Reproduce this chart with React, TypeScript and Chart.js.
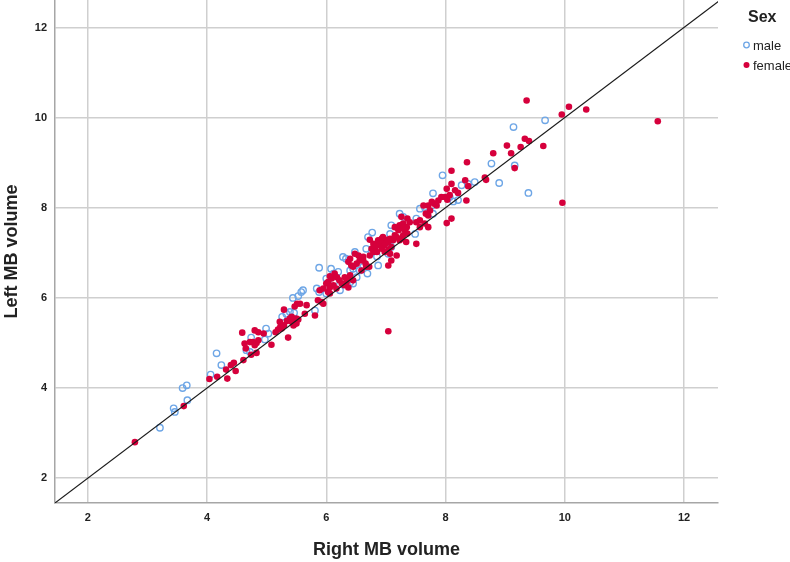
import React, { useEffect, useRef } from "react";
import { Chart, registerables } from "chart.js";

Chart.register(...registerables);

// axis ranges and the y = x reference line
const xRange: [number, number] = [1.45, 12.57];
const yRange: [number, number] = [1.45, 12.61];
const tickStep = 2;

const xTitle = "Right MB volume";
const yTitle = "Left MB volume";
const legendTitle = "Sex";
const seriesNames = ["male", "female"];

// [Right MB volume, Left MB volume]
const malePoints: [number, number][] = [
  [3.21, 3.12], [3.44, 3.55], [3.46, 3.47], [3.59, 4.0], [3.66, 4.06], [3.67, 3.73],
  [4.06, 4.3], [4.16, 4.77], [4.24, 4.51], [4.66, 4.84], [4.72, 4.8], [4.74, 5.12],
  [4.97, 5.08], [4.99, 5.32], [5.03, 5.21], [5.26, 5.58], [5.33, 5.65], [5.39, 5.69],
  [5.46, 5.67], [5.44, 6.0], [5.53, 6.04], [5.58, 6.13], [5.61, 6.17], [5.81, 5.72],
  [5.84, 6.21], [5.88, 6.13], [5.88, 6.67], [6.0, 6.1], [6.0, 6.43], [6.08, 6.65],
  [6.12, 6.54], [6.13, 6.35], [6.2, 6.58], [6.23, 6.17], [6.28, 6.91], [6.33, 6.87],
  [6.4, 6.61], [6.4, 6.35], [6.45, 6.32], [6.51, 6.46], [6.45, 6.65], [6.56, 6.61],
  [6.62, 6.69], [6.69, 6.54], [6.48, 7.02], [6.67, 7.09], [6.76, 7.02], [6.7, 7.35],
  [6.77, 7.45], [6.85, 6.92], [6.87, 6.72], [7.04, 6.98], [7.09, 7.13], [7.07, 7.42],
  [7.09, 7.61], [7.23, 7.87], [7.29, 7.8], [7.49, 7.42], [7.51, 7.76], [7.57, 7.98],
  [7.65, 8.02], [7.77, 8.05], [7.79, 7.87], [7.79, 8.32], [7.95, 8.72], [8.07, 8.24],
  [8.21, 8.17], [8.13, 8.14], [8.27, 8.5], [8.38, 8.53], [8.49, 8.57], [8.77, 8.98],
  [8.9, 8.55], [9.16, 8.94], [9.14, 9.79], [9.39, 8.33], [9.67, 9.94],
];

const femalePoints: [number, number][] = [
  [2.79, 2.8], [3.61, 3.6], [4.04, 4.2], [4.17, 4.25], [4.34, 4.21], [4.32, 4.41],
  [4.4, 4.51], [4.45, 4.56], [4.48, 4.38], [4.61, 4.62], [4.59, 5.23], [4.63, 4.99],
  [4.65, 4.88], [4.72, 5.02], [4.77, 5.02], [4.8, 4.95], [4.83, 5.0], [4.86, 5.06],
  [4.74, 4.74], [4.83, 4.78], [4.8, 5.28], [4.86, 5.24], [4.95, 5.21], [5.08, 4.96],
  [5.15, 5.24], [5.19, 5.3], [5.23, 5.36], [5.22, 5.47], [5.29, 5.74], [5.36, 5.12],
  [5.34, 5.49], [5.39, 5.54], [5.47, 5.81], [5.51, 5.87], [5.5, 5.54], [5.25, 5.32],
  [5.29, 5.39], [5.42, 5.47], [5.45, 5.39], [5.5, 5.43], [5.53, 5.52], [5.56, 5.87],
  [5.67, 5.84], [5.64, 5.65], [5.42, 5.58], [5.81, 5.61], [5.86, 5.95], [5.92, 5.91],
  [5.95, 5.87], [5.89, 6.17], [5.95, 6.21], [6.03, 6.13], [6.06, 6.1], [6.09, 6.43],
  [6.03, 6.35], [6.06, 6.48], [6.0, 6.32], [6.06, 6.23], [6.12, 6.28], [6.17, 6.21],
  [6.14, 6.54], [6.18, 6.46], [6.22, 6.39], [6.26, 6.32], [6.31, 6.46], [6.3, 6.28],
  [6.37, 6.23], [6.37, 6.43], [6.4, 6.5], [6.45, 6.39], [6.34, 6.35], [6.37, 6.8],
  [6.4, 6.87], [6.42, 6.72], [6.45, 6.69], [6.48, 6.98], [6.54, 6.94], [6.56, 6.83],
  [6.51, 6.76], [6.59, 6.61], [6.62, 6.83], [6.62, 6.91], [6.66, 6.76], [6.67, 6.69],
  [6.72, 6.69], [6.73, 6.94], [6.73, 7.29], [6.79, 7.2], [6.76, 7.09], [6.82, 7.13],
  [6.79, 7.02], [6.85, 7.02], [6.85, 7.17], [6.87, 7.28], [6.9, 7.2], [6.93, 7.31],
  [6.95, 7.24], [6.98, 7.17], [6.93, 7.09], [6.98, 7.02], [7.01, 7.29], [7.04, 7.24],
  [7.07, 7.31], [6.95, 7.35], [7.04, 7.06], [7.09, 7.13], [7.07, 6.98], [7.09, 6.83],
  [7.18, 6.94], [7.04, 6.72], [7.04, 5.26], [7.12, 7.28], [7.18, 7.35], [7.15, 7.57],
  [7.21, 7.5], [7.23, 7.61], [7.29, 7.65], [7.35, 7.57], [7.32, 7.5], [7.36, 7.43],
  [7.29, 7.39], [7.34, 7.24], [7.23, 7.28], [7.15, 7.39], [7.26, 7.31], [7.29, 7.54],
  [7.36, 7.76], [7.26, 7.8], [7.4, 7.68], [7.51, 7.68], [7.57, 7.72], [7.51, 7.2],
  [7.57, 7.57], [7.65, 7.65], [7.71, 7.57], [7.67, 7.87], [7.71, 7.83], [7.74, 7.94],
  [7.63, 8.05], [7.71, 8.05], [7.77, 8.13], [7.81, 8.09], [7.85, 8.05], [7.88, 8.16],
  [7.93, 8.24], [7.99, 8.24], [8.03, 8.18], [8.07, 8.28], [8.02, 8.42], [8.16, 8.39],
  [8.21, 8.33], [8.35, 8.16], [8.02, 7.66], [8.1, 7.76], [8.1, 8.53], [8.1, 8.82],
  [8.33, 8.61], [8.38, 8.48], [8.36, 9.01], [8.66, 8.67], [8.68, 8.62], [8.8, 9.21],
  [9.03, 9.38], [9.1, 9.21], [9.16, 8.88], [9.26, 9.35], [9.33, 9.53], [9.4, 9.48],
  [9.36, 10.38], [9.64, 9.37], [9.95, 10.07], [10.07, 10.24], [10.36, 10.18],
  [9.96, 8.11], [11.56, 9.92],
];

const MALE_COLOR = "#6ea6e6";
const FEMALE_COLOR = "#d6003c";
const TEXT_COLOR = "#222222";

const legendPlugin = {
  id: "sexLegend",
  afterDraw(chart: any) {
    const ctx = chart.ctx as CanvasRenderingContext2D;
    ctx.save();
    ctx.fillStyle = TEXT_COLOR;
    ctx.textBaseline = "middle";
    ctx.textAlign = "left";
    ctx.font = "bold 16px Arial, 'Liberation Sans', sans-serif";
    ctx.fillText(legendTitle, 748, 18);
    ctx.font = "13px Arial, 'Liberation Sans', sans-serif";
    // male marker
    ctx.beginPath();
    ctx.arc(746.5, 45, 2.8, 0, Math.PI * 2);
    ctx.strokeStyle = MALE_COLOR;
    ctx.lineWidth = 1.3;
    ctx.stroke();
    ctx.fillStyle = TEXT_COLOR;
    ctx.fillText(seriesNames[0], 753, 46);
    // female marker
    ctx.beginPath();
    ctx.arc(746.5, 65, 3, 0, Math.PI * 2);
    ctx.fillStyle = FEMALE_COLOR;
    ctx.fill();
    ctx.fillStyle = TEXT_COLOR;
    ctx.fillText(seriesNames[1], 753, 66);
    ctx.restore();
  },
};

export default function App() {
  const canvasRef = useRef<HTMLCanvasElement | null>(null);

  useEffect(() => {
    const canvas = canvasRef.current;
    if (!canvas) return;
    const tickFont = { family: "Arial, 'Liberation Sans', sans-serif", size: 11, weight: "bold" as const };
    const titleFont = { family: "Arial, 'Liberation Sans', sans-serif", size: 18, weight: "bold" as const };
    const grid = { color: "#cfcfcf", lineWidth: 1.5, drawTicks: false };
    const border = { color: "#a6a6a6", width: 1.5 };
    const lineEnd = Math.max(xRange[1], yRange[1]);

    const chart = new Chart(canvas, {
      type: "scatter",
      data: {
        datasets: [
          {
            type: "line",
            label: "reference",
            data: [
              { x: xRange[0], y: xRange[0] },
              { x: lineEnd, y: lineEnd },
            ],
            borderColor: "#1a1a1a",
            borderWidth: 1.1,
            pointRadius: 0,
            fill: false,
            order: 0,
          } as any,
          {
            label: seriesNames[1],
            data: femalePoints.map(([x, y]) => ({ x, y })),
            backgroundColor: FEMALE_COLOR,
            borderColor: FEMALE_COLOR,
            borderWidth: 0,
            pointRadius: 3.3,
            order: 1,
          },
          {
            label: seriesNames[0],
            data: malePoints.map(([x, y]) => ({ x, y })),
            backgroundColor: "rgba(255,255,255,0)",
            borderColor: MALE_COLOR,
            borderWidth: 1.4,
            pointRadius: 3.2,
            order: 2,
          },
        ],
      },
      options: {
        animation: false,
        responsive: false,
        devicePixelRatio: 1,
        layout: { autoPadding: false, padding: { left: 0, right: 72, top: 0, bottom: 0 } },
        plugins: {
          legend: { display: false },
          tooltip: { enabled: false },
        },
        scales: {
          x: {
            type: "linear",
            min: xRange[0],
            max: xRange[1],
            ticks: { stepSize: tickStep, includeBounds: false, font: tickFont, color: TEXT_COLOR, padding: 8 },
            grid,
            border,
            title: { display: true, text: xTitle, font: titleFont, color: TEXT_COLOR, padding: { top: 0, bottom: 1.5 } },
            afterFit: (s: any) => {
              s.height = 59;
              s.paddingLeft = 0;
              s.paddingRight = 0;
            },
          },
          y: {
            type: "linear",
            min: yRange[0],
            max: yRange[1],
            ticks: { stepSize: tickStep, includeBounds: false, font: tickFont, color: TEXT_COLOR, padding: 8 },
            grid,
            border,
            title: { display: true, text: yTitle, font: titleFont, color: TEXT_COLOR, padding: { top: 1.5, bottom: 0 } },
            afterFit: (s: any) => {
              s.width = 55;
              s.paddingTop = 0;
              s.paddingBottom = 0;
            },
          },
        },
      },
      plugins: [legendPlugin],
    });
    return () => chart.destroy();
  }, []);

  return (
    <div style={{ position: "fixed", left: 0, top: 0, width: 790, height: 562, background: "#ffffff" }}>
      <canvas ref={canvasRef} width={790} height={562} style={{ display: "block", width: 790, height: 562 }} />
    </div>
  );
}
